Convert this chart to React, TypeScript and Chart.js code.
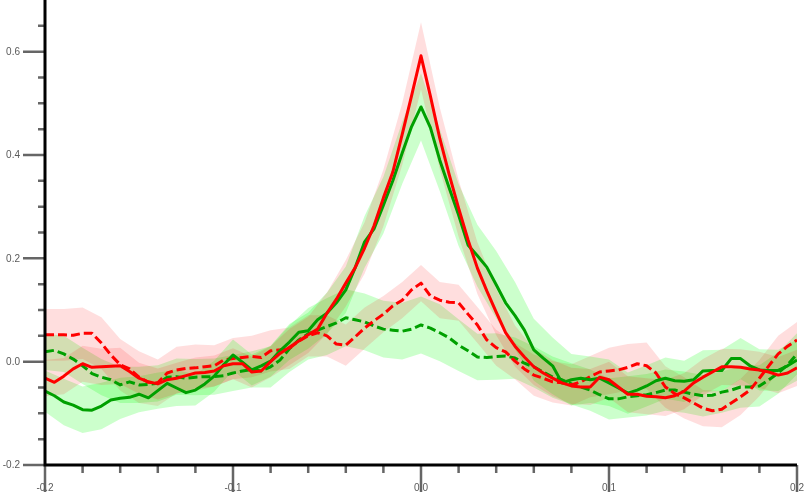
import React, { useEffect, useRef } from "react";
import { Chart, registerables } from "chart.js";

Chart.register(...registerables);

// sample grid: x from -0.2 to 0.2, step 0.005 (81 samples)
const X_START = -0.2;
const X_STEP = 0.005;

const greenSolid = [
  -0.057, -0.066, -0.078, -0.084, -0.093, -0.094, -0.086, -0.074, -0.071, -0.069,
  -0.063, -0.070, -0.056, -0.042, -0.051, -0.060, -0.055, -0.043, -0.028, -0.006,
  0.013, -0.001, -0.016, -0.008, 0.001, 0.021, 0.038, 0.057, 0.060, 0.081,
  0.094, 0.114, 0.139, 0.182, 0.232, 0.257, 0.303, 0.350, 0.404, 0.455,
  0.493, 0.453, 0.390, 0.336, 0.284, 0.226, 0.205, 0.183, 0.149, 0.114,
  0.089, 0.061, 0.023, 0.007, -0.008, -0.041, -0.035, -0.032, -0.035, -0.032,
  -0.041, -0.051, -0.061, -0.055, -0.047, -0.037, -0.032, -0.037, -0.038, -0.035,
  -0.018, -0.017, -0.017, 0.006, 0.006, -0.008, -0.016, -0.017, -0.017, -0.008,
  0.003,
];

const redSolid = [
  -0.032, -0.040, -0.028, -0.014, -0.004, -0.011, -0.010, -0.009, -0.008, -0.019,
  -0.032, -0.039, -0.043, -0.035, -0.032, -0.027, -0.022, -0.021, -0.018, -0.008,
  -0.004, -0.004, -0.020, -0.018, 0.000, 0.016, 0.028, 0.040, 0.052, 0.063,
  0.094, 0.121, 0.152, 0.182, 0.220, 0.263, 0.317, 0.367, 0.440, 0.515,
  0.592, 0.514, 0.432, 0.362, 0.297, 0.236, 0.181, 0.137, 0.096, 0.056,
  0.030, 0.009, -0.010, -0.022, -0.032, -0.041, -0.047, -0.049, -0.049, -0.030,
  -0.035, -0.049, -0.063, -0.063, -0.067, -0.068, -0.070, -0.066, -0.057, -0.041,
  -0.030, -0.020, -0.010, -0.010, -0.011, -0.014, -0.016, -0.020, -0.026, -0.022,
  -0.012,
];

const greenDashed = [
  0.019, 0.022, 0.015, 0.005, -0.008, -0.023, -0.030, -0.035, -0.045, -0.039,
  -0.045, -0.044, -0.042, -0.030, -0.029, -0.032, -0.030, -0.029, -0.029, -0.027,
  -0.022, -0.018, -0.015, -0.018, -0.010, 0.003, 0.025, 0.042, 0.054, 0.061,
  0.068, 0.075, 0.085, 0.081, 0.077, 0.069, 0.063, 0.061, 0.059, 0.063,
  0.071, 0.065, 0.056, 0.046, 0.032, 0.021, 0.009, 0.008, 0.010, 0.011,
  0.007, -0.003, -0.010, -0.020, -0.030, -0.035, -0.043, -0.049, -0.055, -0.064,
  -0.072, -0.072, -0.068, -0.066, -0.064, -0.060, -0.055, -0.055, -0.059, -0.063,
  -0.066, -0.065, -0.059, -0.055, -0.049, -0.049, -0.047, -0.035, -0.022, -0.006,
  0.015,
];

const redDashed = [
  0.052, 0.052, 0.052, 0.051, 0.055, 0.055, 0.036, 0.013, -0.006, -0.014,
  -0.030, -0.040, -0.041, -0.022, -0.016, -0.013, -0.012, -0.010, -0.008, 0.003,
  0.006, 0.008, 0.010, 0.008, 0.021, 0.023, 0.026, 0.040, 0.050, 0.056,
  0.050, 0.034, 0.032, 0.048, 0.065, 0.079, 0.092, 0.108, 0.119, 0.139,
  0.152, 0.127, 0.119, 0.115, 0.114, 0.092, 0.071, 0.042, 0.027, 0.019,
  0.001, -0.014, -0.026, -0.032, -0.039, -0.041, -0.045, -0.039, -0.029, -0.020,
  -0.018, -0.016, -0.011, -0.004, -0.008, -0.022, -0.049, -0.062, -0.070, -0.080,
  -0.090, -0.095, -0.092, -0.080, -0.068, -0.055, -0.032, -0.008, 0.015, 0.030,
  0.042,
];

// band half-widths, one per 0.01 (every other sample), 41 values
const greenSolidErr = [
  0.04, 0.045, 0.045, 0.045, 0.04, 0.035, 0.035, 0.035, 0.03, 0.03,
  0.03, 0.03, 0.03, 0.035, 0.035, 0.04, 0.045, 0.05, 0.055, 0.06,
  0.065, 0.06, 0.06, 0.06, 0.065, 0.065, 0.06, 0.055, 0.05, 0.045,
  0.045, 0.04, 0.04, 0.04, 0.04, 0.04, 0.04, 0.04, 0.04, 0.04,
  0.04,
];
const redSolidErr = [
  0.035, 0.035, 0.035, 0.035, 0.035, 0.03, 0.03, 0.03, 0.03, 0.03,
  0.03, 0.03, 0.03, 0.035, 0.035, 0.04, 0.045, 0.05, 0.055, 0.06,
  0.065, 0.06, 0.055, 0.05, 0.045, 0.04, 0.035, 0.035, 0.035, 0.035,
  0.035, 0.035, 0.035, 0.035, 0.035, 0.035, 0.035, 0.035, 0.035, 0.035,
  0.035,
];
const greenDashedErr = [
  0.035, 0.035, 0.035, 0.035, 0.035, 0.035, 0.035, 0.035, 0.035, 0.035,
  0.035, 0.035, 0.04, 0.045, 0.05, 0.055, 0.055, 0.055, 0.055, 0.055,
  0.055, 0.055, 0.05, 0.045, 0.045, 0.04, 0.04, 0.04, 0.04, 0.04,
  0.04, 0.04, 0.04, 0.04, 0.04, 0.04, 0.04, 0.04, 0.04, 0.04,
  0.04,
];
const redDashedErr = [
  0.05, 0.05, 0.05, 0.05, 0.05, 0.05, 0.045, 0.045, 0.045, 0.04,
  0.04, 0.04, 0.04, 0.04, 0.04, 0.04, 0.04, 0.04, 0.035, 0.035,
  0.035, 0.035, 0.035, 0.035, 0.035, 0.035, 0.04, 0.04, 0.04, 0.04,
  0.045, 0.045, 0.045, 0.04, 0.04, 0.035, 0.035, 0.035, 0.035, 0.035,
  0.035,
];

const xMajorTicks = [-0.2, -0.1, 0.0, 0.1, 0.2];
const xMajorLabels = ["-0.2", "-0.1", "0.0", "0.1", "0.2"];
const yMajorTicks = [-0.2, 0.0, 0.2, 0.4, 0.6];
const yMajorLabels = ["-0.2", "0.0", "0.2", "0.4", "0.6"];
const xMinorTicks = [-0.18, -0.16, -0.14, -0.12, -0.08, -0.06, -0.04, -0.02, 0.02, 0.04, 0.06, 0.08, 0.12, 0.14, 0.16, 0.18];
const yMinorTicks = [-0.15, -0.1, -0.05, 0.05, 0.1, 0.15, 0.25, 0.3, 0.35, 0.45, 0.5, 0.55, 0.65];

const GREEN = "rgb(0,160,0)";
const RED = "rgb(255,0,0)";
const GREEN_FILL = "rgba(0,255,0,0.2)";
const RED_FILL = "rgba(255,0,0,0.13)";

const xAt = (i: number) => +(X_START + i * X_STEP).toFixed(4);
const linePts = (arr: number[]) => arr.map((v, i) => ({ x: xAt(i), y: v }));
const bandPts = (arr: number[], err: number[], sign: number) =>
  err.map((e, k) => ({ x: xAt(2 * k), y: arr[2 * k] + sign * e }));

const axesPlugin = {
  id: "mmaAxes",
  afterDatasetsDraw(chart: any) {
    const { ctx, scales } = chart;
    const xs = scales.x;
    const ys = scales.y;
    const ax = xs.getPixelForValue(-0.2);
    const ay = ys.getPixelForValue(-0.2);
    ctx.save();
    ctx.strokeStyle = "#666";
    ctx.lineWidth = 2.5;
    ctx.lineCap = "butt";
    ctx.beginPath();
    for (const v of yMajorTicks) {
      const p = ys.getPixelForValue(v);
      ctx.moveTo(ax - 22, p);
      ctx.lineTo(ax, p);
    }
    for (const v of yMinorTicks) {
      const p = ys.getPixelForValue(v);
      ctx.moveTo(ax - 7, p);
      ctx.lineTo(ax, p);
    }
    for (const v of xMajorTicks) {
      const p = xs.getPixelForValue(v);
      ctx.moveTo(p, ay);
      ctx.lineTo(p, ay + 27);
    }
    for (const v of xMinorTicks) {
      const p = xs.getPixelForValue(v);
      ctx.moveTo(p, ay);
      ctx.lineTo(p, ay + 8);
    }
    ctx.stroke();

    // axis lines
    ctx.strokeStyle = "#000";
    ctx.lineWidth = 3;
    ctx.beginPath();
    ctx.moveTo(ax, 0);
    ctx.lineTo(ax, ay + 1.5);
    ctx.moveTo(ax - 1.5, ay);
    ctx.lineTo(xs.getPixelForValue(0.2), ay);
    ctx.stroke();

    // labels
    ctx.fillStyle = "#5a5a5a";
    ctx.font = "10px 'Liberation Sans', Arial, sans-serif";
    ctx.textAlign = "right";
    ctx.textBaseline = "middle";
    yMajorTicks.forEach((v, i) => {
      ctx.fillText(yMajorLabels[i], ax - 25, ys.getPixelForValue(v) + 0.5);
    });
    ctx.textAlign = "center";
    xMajorTicks.forEach((v, i) => {
      ctx.fillText(xMajorLabels[i], xs.getPixelForValue(v), ay + 23.5);
    });
    ctx.restore();
  },
};

export default function App() {
  const ref = useRef<HTMLCanvasElement | null>(null);

  useEffect(() => {
    if (!ref.current) return;
    const band = (arr: number[], err: number[], color: string, order: number) => [
      {
        data: bandPts(arr, err, -1),
        borderWidth: 0,
        borderColor: "rgba(0,0,0,0)",
        pointRadius: 0,
        fill: false,
        order,
      },
      {
        data: bandPts(arr, err, 1),
        borderWidth: 0,
        borderColor: "rgba(0,0,0,0)",
        backgroundColor: color,
        pointRadius: 0,
        fill: "-1",
        order,
      },
    ];
    const line = (arr: number[], color: string, dashed: boolean, order: number) => ({
      data: linePts(arr),
      borderColor: color,
      borderWidth: 3,
      borderDash: dashed ? [9, 4] : [],
      borderJoinStyle: "round",
      pointRadius: 0,
      fill: false,
      tension: 0,
      order,
    });
    const chart = new Chart(ref.current, {
      type: "line",
      data: {
        datasets: [
          ...band(greenDashed, greenDashedErr, GREEN_FILL, 20),
          ...band(redDashed, redDashedErr, RED_FILL, 18),
          ...band(greenSolid, greenSolidErr, GREEN_FILL, 16),
          ...band(redSolid, redSolidErr, RED_FILL, 14),
          line(greenDashed, GREEN, true, 3),
          line(redDashed, RED, true, 2),
          line(greenSolid, GREEN, false, 1),
          line(redSolid, RED, false, 0),
        ] as any,
      },
      options: {
        responsive: false,
        animation: false,
        devicePixelRatio: 1,
        events: [],
        layout: { padding: { left: 45, right: 8, top: 0, bottom: 31 } },
        plugins: {
          legend: { display: false },
          tooltip: { enabled: false },
        },
        scales: {
          x: { type: "linear", min: -0.2, max: 0.2, display: false },
          y: { type: "linear", min: -0.2, max: 0.7, display: false },
        },
      } as any,
      plugins: [axesPlugin],
    });
    return () => chart.destroy();
  }, []);

  return (
    <div style={{ position: "absolute", left: 0, top: 0, width: 805, height: 496 }}>
      <canvas ref={ref} width={805} height={496} style={{ display: "block" }} />
    </div>
  );
}
